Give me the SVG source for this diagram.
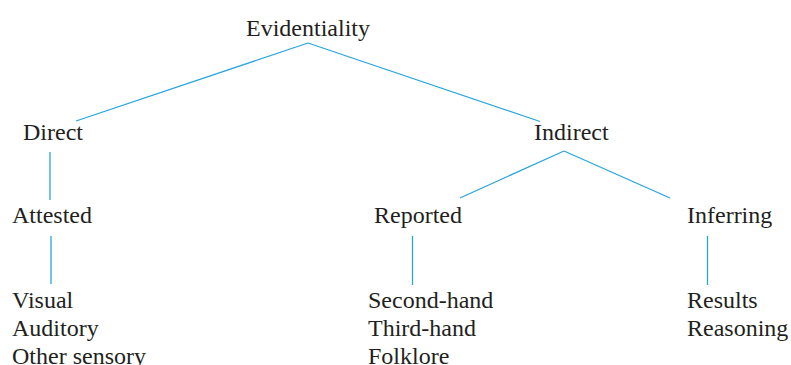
<svg xmlns="http://www.w3.org/2000/svg" width="791" height="365" viewBox="0 0 791 365">
<style>
text{font-family:"Liberation Serif","Times New Roman",serif;font-size:24px;fill:#231f20}
.c line{stroke:#2aa4dd;stroke-width:1.3;fill:none}
</style>
<rect width="791" height="365" fill="#fff"/>
<g class="c" id="connectors">
<line x1="308" y1="43" x2="76" y2="121"/>
<line x1="308" y1="43" x2="540" y2="121.5"/>
<line x1="564" y1="151" x2="460" y2="198"/>
<line x1="564" y1="151" x2="670" y2="198"/>
<line x1="50" y1="152" x2="50" y2="200"/>
<line x1="51" y1="236" x2="51" y2="284"/>
<line x1="412.5" y1="236" x2="412.5" y2="285"/>
<line x1="707.5" y1="236" x2="707.5" y2="285"/>
</g>
<g id="evidentiality"><text x="246" y="36">Evidentiality</text></g>
<g id="direct"><text x="23" y="140">Direct</text></g>
<g id="indirect"><text x="534" y="140">Indirect</text></g>
<g id="attested"><text x="12" y="223">Attested</text></g>
<g id="reported"><text x="374" y="223">Reported</text></g>
<g id="inferring"><text x="687" y="223">Inferring</text></g>
<g id="direct-types"><text x="12" y="308">Visual</text><text x="12" y="336">Auditory</text><text x="12" y="364">Other sensory</text></g>
<g id="reported-types"><text x="368" y="308">Second-hand</text><text x="368" y="336">Third-hand</text><text x="368" y="364">Folklore</text></g>
<g id="inferring-types"><text x="687" y="308">Results</text><text x="687" y="336">Reasoning</text></g>
</svg>
